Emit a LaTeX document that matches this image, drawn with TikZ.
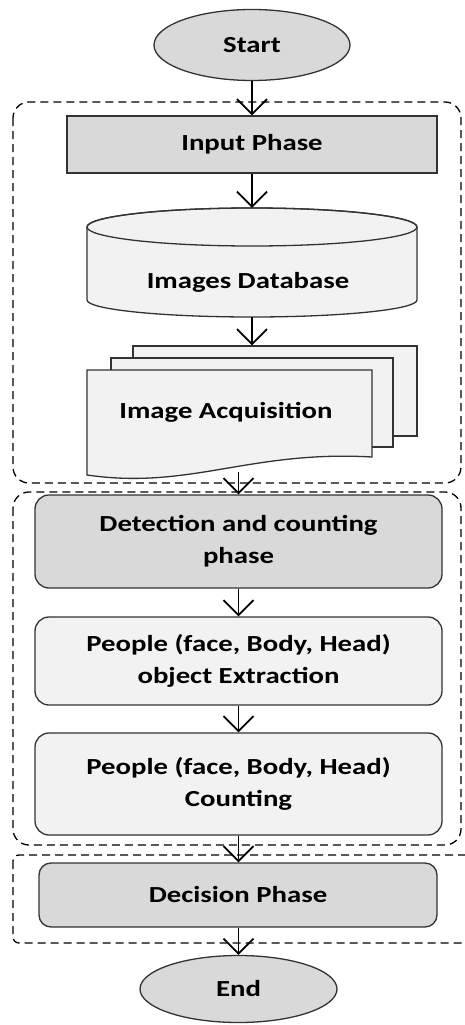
\documentclass[tikz,border=0pt]{standalone}
\usepackage{fontspec}
\setmainfont{Carlito}[FakeStretch=1.25]
\usetikzlibrary{arrows.meta,shapes.geometric}
\definecolor{darkfill}{HTML}{D9D9D9}
\definecolor{lightfill}{HTML}{F2F2F2}
\definecolor{edge}{HTML}{333333}
\tikzset{
  lbl/.style={font=\fontsize{23}{32}\selectfont\bfseries, text=black, align=center},
  shapeline/.style={draw=edge, line width=1.3pt},
  darkbox/.style={shapeline, fill=darkfill, lbl},
  lightbox/.style={shapeline, fill=lightfill, lbl},
  roundbox/.style={rounded corners=14pt, minimum width=407pt},
  arr/.style={draw=black, line width=1.8pt, -{Straight Barb[length=15pt,width=30pt,line width=1.8pt]}},
  phase/.style={draw=black, line width=1.3pt, dash pattern=on 8pt off 5pt, rounded corners=16pt}
}
\begin{document}
\begin{tikzpicture}[x=1pt,y=1pt]
\useasboundingbox (0,0) rectangle (465,-1025);
\fill[white] (0,0) rectangle (465,-1025);
% phase regions
\draw[phase] (13,-102) rectangle (461,-483);
\draw[phase] (13,-492) rectangle (461,-845);
\begin{scope}
\clip (0,0) rectangle (465,-1025);
\draw[phase, rounded corners=6pt] (13,-855) rectangle (490,-943);
\end{scope}
% start
\node[ellipse, darkbox, minimum width=196pt, minimum height=71pt, inner sep=0pt] (start) at (252,-45) {Start};
% input phase
\node[rectangle, darkbox, minimum width=370pt, minimum height=57pt, inner sep=0pt] (input) at (252,-144.5) {Input Phase};
% images database (cylinder)
\path[shapeline, fill=lightfill] (87,-227) -- (87,-300) arc[start angle=180, end angle=360, x radius=165, y radius=17] -- (417,-227) arc[start angle=0, end angle=180, x radius=165, y radius=19] -- cycle;
\draw[shapeline] (252,-227) ellipse[x radius=165, y radius=19];
\node[inner sep=0pt, minimum width=330pt, minimum height=109pt] (db) at (252,-262.5) {};
\node[lbl] (dbtext) at (248,-282) {Images Database};
% image acquisition (multi document)
\node[rectangle, shapeline, fill=lightfill, minimum width=284pt, minimum height=90pt, inner sep=0pt] (acqback) at (275,-391) {};
\node[rectangle, shapeline, fill=lightfill, minimum width=282pt, minimum height=89pt, inner sep=0pt] (acqmid) at (252,-402.5) {};
\path[shapeline, fill=lightfill] (87,-370) -- (372,-370) -- (372,-457) .. controls (250,-450) and (190,-490) .. (87,-475) -- cycle;
\node[inner sep=0pt, minimum width=285pt, minimum height=102pt] (acq) at (229.5,-421) {};
\node[lbl] (acqtext) at (226,-412) {Image Acquisition};
% detection phase
\node[rectangle, darkbox, roundbox, minimum height=93pt, inner sep=0pt] (det) at (238.5,-541.5) {Detection and counting\\phase};
\node[rectangle, lightbox, roundbox, minimum height=88pt, inner sep=0pt] (ext) at (238.5,-661) {People (face, Body, Head)\\object Extraction};
\node[rectangle, lightbox, roundbox, minimum height=102pt, inner sep=0pt] (cnt) at (238.5,-784) {People (face, Body, Head)\\Counting};
% decision
\node[rectangle, darkbox, rounded corners=12pt, minimum width=398pt, minimum height=64pt, inner sep=0pt] (dec) at (238,-895) {Decision Phase};
% end
\node[ellipse, darkbox, minimum width=197pt, minimum height=67pt, inner sep=0pt] (end) at (238.5,-989) {End};
% connectors
\draw[arr] (start.south) -- (input.north);
\draw[arr] (input.south) -- (db.north);
\draw[arr] (db.south) -- (db.south |- acqback.north);
\draw[arr] (acq.south -| det.north) -- (det.north);
\draw[arr] (det.south) -- (ext.north);
\draw[arr] (ext.south) -- (cnt.north);
\draw[arr] (cnt.south) -- (cnt.south |- dec.north);
\draw[arr] (dec.south -| end.north) -- (end.north);
\end{tikzpicture}
\end{document}
